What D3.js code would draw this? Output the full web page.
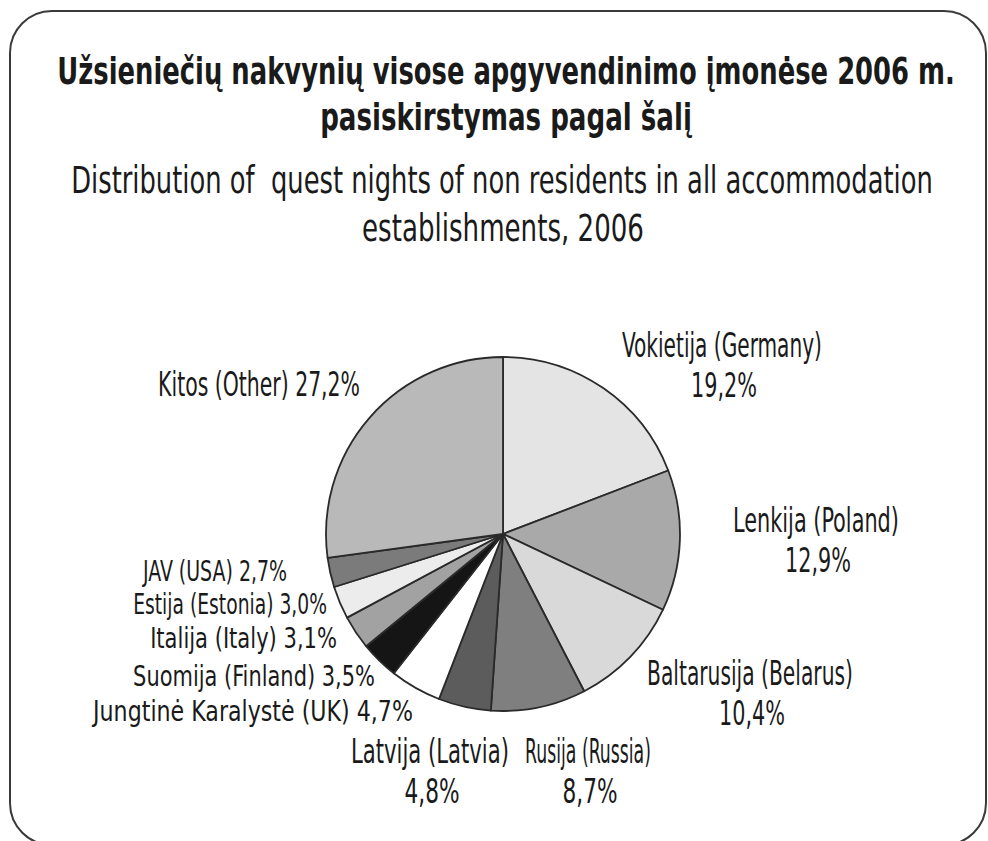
<!DOCTYPE html>
<html>
<head>
<meta charset="utf-8">
<script src="https://d3js.org/d3.v7.min.js"></script>
<style>
  body { margin: 0; background: #fff; }
  text { font-family: "Liberation Sans Narrow", "DejaVu Sans Condensed", "Arial Narrow", sans-serif; font-stretch: condensed; fill: #1a1a1a; white-space: pre; }
</style>
</head>
<body>
<svg width="988" height="841"></svg>
<script>
// data
const names = ["Vokietija (Germany)", "Lenkija (Poland)", "Baltarusija (Belarus)", "Rusija (Russia)",
  "Latvija (Latvia)", "Jungtinė Karalystė (UK)", "Suomija (Finland)", "Italija (Italy)",
  "Estija (Estonia)", "JAV (USA)", "Kitos (Other)"];
const shares = [19.2, 12.9, 10.4, 8.7, 4.8, 4.7, 3.5, 3.1, 3.0, 2.7, 27.2];
const greys = ["#e4e4e4", "#a9a9a9", "#d9d9d9", "#7f7f7f", "#5c5c5c", "#ffffff",
  "#151515", "#a2a2a2", "#ececec", "#7b7b7b", "#b9b9b9"];

const titleLines = ["Užsieniečių nakvynių visose apgyvendinimo įmonėse 2006 m.", "pasiskirstymas pagal šalį"];
const subLines = ["Distribution of  quest nights of non residents in all accommodation", "establishments, 2006"];

const pct = v => d3.format(".1f")(v).replace(".", ",") + "%";

// label layout: [x, y, anchor, two lines?, width of longest line, font size]
const labelAt = {
  "Vokietija (Germany)":      [722, 357, "middle", true, 200, 33],
  "Lenkija (Poland)":         [816, 532, "middle", true, 166, 33],
  "Baltarusija (Belarus)":    [750, 685, "middle", true, 206, 33],
  "Rusija (Russia)":          [588, 763, "middle", true, 126, 33],
  "Latvija (Latvia)":         [430, 763, "middle", true, 158, 33],
  "Jungtinė Karalystė (UK)":  [413, 721, "end", false, 320, 28],
  "Suomija (Finland)":        [375, 686, "end", false, 242, 28],
  "Italija (Italy)":          [337, 648, "end", false, 187, 28],
  "Estija (Estonia)":         [327, 614, "end", false, 194, 28],
  "JAV (USA)":                [287, 581, "end", false, 144, 28],
  "Kitos (Other)":            [360, 396, "end", false, 202, 33]
};

const svg = d3.select("svg");

// squeeze a text horizontally to the width it has in the picture
function squeezed(str, x, y, width, size, anchor, bold) {
  const t = svg.append("text")
    .attr("text-anchor", anchor)
    .attr("font-size", size)
    .attr("font-weight", bold ? "bold" : null)
    .text(str);
  const len = t.node().getComputedTextLength();
  t.attr("transform", `translate(${x},${y}) scale(${width / len},1)`);
  return t;
}

svg.append("rect")
  .attr("x", 10).attr("y", 11)
  .attr("width", 976).attr("height", 834)
  .attr("rx", 42).attr("ry", 42)
  .attr("fill", "#fff")
  .attr("stroke", "#3a3a3a")
  .attr("stroke-width", 2);

// titles
squeezed(titleLines[0], 506, 84, 898, 38, "middle", true);
squeezed(titleLines[1], 506, 130, 372, 38, "middle", true);
squeezed(subLines[0], 502, 193, 862, 37, "middle", false);
squeezed(subLines[1], 503, 241, 282, 37, "middle", false);

// pie
const cx = 503, cy = 534, r = 177;
const rows = names.map((n, i) => ({ name: n, value: shares[i], fill: greys[i] }));
const pie = d3.pie().sort(null).value(d => d.value);
const arc = d3.arc().innerRadius(0).outerRadius(r);

const g = svg.append("g").attr("transform", `translate(${cx},${cy})`);
g.selectAll("path")
  .data(pie(rows))
  .join("path")
  .attr("d", arc)
  .attr("fill", d => d.data.fill)
  .attr("stroke", "#2a2a2a")
  .attr("stroke-width", 1.8)
  .attr("stroke-linejoin", "round");

// labels
rows.forEach(d => {
  const [x, y, anchor, twoLines, w, size] = labelAt[d.name];
  if (twoLines) {
    squeezed(d.name, x, y, w, size, anchor, false);
    squeezed(pct(d.value), x + 2, y + 40, d.value >= 10 ? 66 : 55, size, anchor, false);
  } else {
    squeezed(d.name + " " + pct(d.value), x, y, w, size, anchor, false);
  }
});
</script>
</body>
</html>
